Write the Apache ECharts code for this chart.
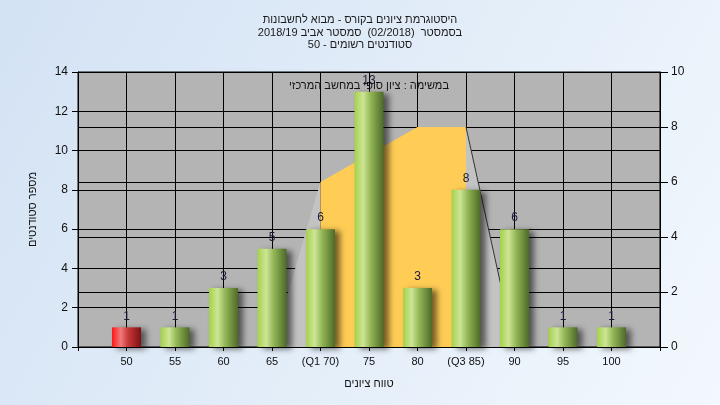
<!DOCTYPE html>
<html>
<head>
<meta charset="utf-8">
<script src="https://cdn.jsdelivr.net/npm/echarts@6/dist/echarts.min.js"></script>
<style>
html,body{margin:0;padding:0;}
#c{width:720px;height:405px;}
</style>
</head>
<body>
<div id="c"></div>
<script>
const categories = ['50','55','60','65','(Q1 70)','75','80','(Q3 85)','90','95','100'];
const counts = [1,1,3,5,6,13,3,8,6,1,1];
const areaLeft  = [null,null,null,0,6,null,null,null,null,null,null];
const areaMid   = [null,null,null,null,6,7,8,8,null,null,null];
const areaRight = [null,null,null,null,null,null,null,8,0,null,null];
const titleLines = ['היסטוגרמת ציונים בקורס - מבוא לחשבונות','בסמסטר  (02/2018)  סמסטר אביב 2018/19','סטודנטים רשומים - 50'];
const note = 'במשימה : ציון סופי במחשב המרכזי';
const xName = 'טווח ציונים';
const yName = 'מספר סטודנטים';

const pad = a => ['-'].concat(a.map(v => v === null ? '-' : v)).concat(['-']);
const xCats = [''].concat(categories).concat(['']);
const FONT = 'Liberation Sans, Arial, sans-serif';

const green = new echarts.graphic.LinearGradient(0,0,1,0,[
  {offset:0,color:'#A5D14A'},{offset:0.3,color:'#CDE596'},{offset:0.55,color:'#94B757'},{offset:1,color:'#4D6A27'}]);
const red = new echarts.graphic.LinearGradient(0,0,1,0,[
  {offset:0,color:'#FF1616'},{offset:0.3,color:'#F27A7A'},{offset:0.55,color:'#C83A3A'},{offset:1,color:'#7E1010'}]);

const barData = counts.map((v,i) => ({value:v, itemStyle:{color: i===0 ? red : green}}));

const chart = echarts.init(document.getElementById('c'), null, {renderer:'canvas'});
chart.setOption({
  animation:false,
  backgroundColor: new echarts.graphic.LinearGradient(0,0,1,1,[{offset:0,color:'#D3E2F4'},{offset:1,color:'#F2F8FD'}]),
  title:{text:titleLines.join('\n'), left:'center', top:9,
    textStyle:{fontFamily:FONT,fontSize:11,fontWeight:'normal',color:'#1a1a1a',lineHeight:12.5}},
  graphic:[{type:'text', x:369, y:86, z:100,
    style:{text:note, fill:'#111', font:'11px '+FONT, align:'center', verticalAlign:'middle'}}],
  grid:{left:78, top:72, width:582, height:275, show:true, backgroundColor:'#B4B4B4', borderColor:'#000', borderWidth:1},
  xAxis:{type:'category', data:xCats, boundaryGap:false,
    name:xName, nameLocation:'middle', nameGap:31, nameTextStyle:{fontFamily:FONT,fontSize:11,color:'#111'},
    axisLine:{lineStyle:{color:'#000'}}, axisTick:{show:true, length:4, lineStyle:{color:'#000'}},
    axisLabel:{fontFamily:FONT,fontSize:11,color:'#111',margin:9, interval:0},
    splitLine:{show:true, lineStyle:{color:'#000',width:1}}},
  yAxis:[
    {type:'value', min:0, max:14, interval:2, position:'left',
     name:yName, nameLocation:'middle', nameGap:40, nameTextStyle:{fontFamily:FONT,fontSize:11,color:'#111'},
     axisLine:{show:true,lineStyle:{color:'#000'}}, axisTick:{show:true,length:6,lineStyle:{color:'#000'}},
     axisLabel:{fontFamily:FONT,fontSize:12,color:'#111',margin:10},
     splitLine:{show:true,lineStyle:{color:'#000',width:1}}},
    {type:'value', min:0, max:10, interval:2, position:'right',
     axisLine:{show:true,lineStyle:{color:'#000'}}, axisTick:{show:true,length:8,lineStyle:{color:'#000'}},
     axisLabel:{fontFamily:FONT,fontSize:12,color:'#111',margin:11},
     splitLine:{show:true,lineStyle:{color:'#000',width:1}}}
  ],
  series:[
    {type:'line', yAxisIndex:1, data:pad(areaLeft), symbol:'none', z:1,
     lineStyle:{width:0}, areaStyle:{color:'#C3C3C3',opacity:1}},
    {type:'line', yAxisIndex:1, data:pad(areaRight), symbol:'none', z:1,
     lineStyle:{width:1,color:'#333'}, areaStyle:{color:'#C3C3C3',opacity:1}},
    {type:'line', yAxisIndex:1, data:pad(areaMid), symbol:'none', z:1,
     lineStyle:{width:0}, areaStyle:{color:'#FFCC55',opacity:1}},
    {type:'bar', yAxisIndex:0, data:pad(barData), barWidth:29, z:3,
     itemStyle:{shadowColor:'rgba(0,0,0,0.55)', shadowBlur:6, shadowOffsetX:5, shadowOffsetY:2},
     label:{show:true, position:'top', distance:5, fontFamily:FONT, fontSize:12, color:'#1a1a3a'}}
  ]
});
</script>
</body>
</html>
